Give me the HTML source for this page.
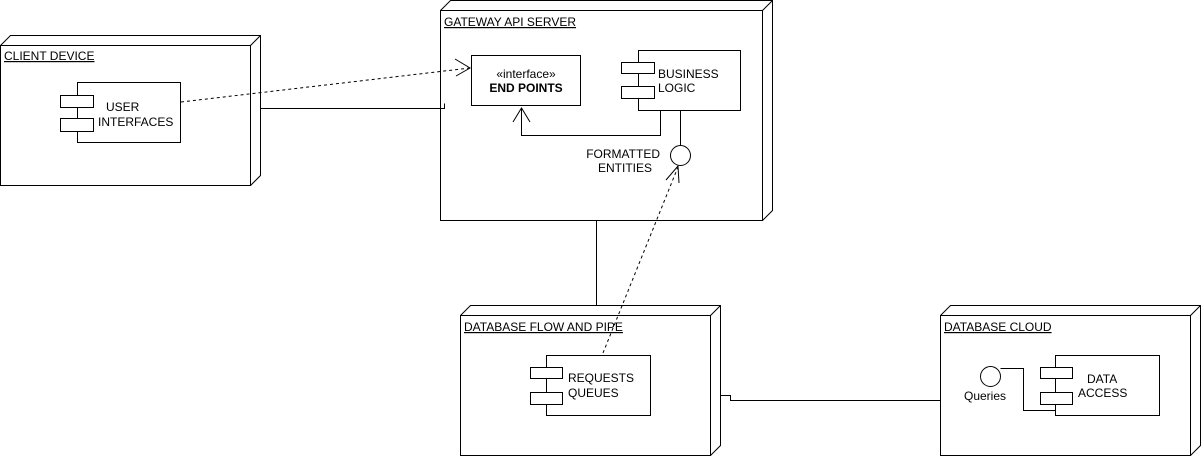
<!DOCTYPE html>
<html><head><style>body{margin:0;background:#fff}svg{display:block}text{font-family:"Liberation Sans",sans-serif;font-size:12px;fill:#000}</style></head>
<body>
<svg width="1201" height="456" viewBox="0 0 1201 456" xmlns="http://www.w3.org/2000/svg">
<g fill="none" stroke="#000" stroke-width="1">
<!-- client -->
<rect x="0.5" y="45.5" width="250" height="140" fill="#fff"/>
<path d="M0.5 45.5 L10.5 35.5 L260.5 35.5 L260.5 175.5 L250.5 185.5 M250.5 45.5 L260.5 35.5"/>
<!-- gateway -->
<rect x="440.5" y="10.5" width="322" height="210" fill="#fff"/>
<path d="M440.5 10.5 L450.5 0.5 L772.5 0.5 L772.5 210.5 L762.5 220.5 M762.5 10.5 L772.5 0.5"/>
<!-- db flow -->
<rect x="460.5" y="315.5" width="250" height="140" fill="#fff"/>
<path d="M460.5 315.5 L470.5 305.5 L720.5 305.5 L720.5 445.5 L710.5 455.5 M710.5 315.5 L720.5 305.5"/>
<!-- cloud -->
<rect x="940.5" y="315.5" width="250" height="140" fill="#fff"/>
<path d="M940.5 315.5 L950.5 305.5 L1200.5 305.5 L1200.5 445.5 L1190.5 455.5 M1190.5 315.5 L1200.5 305.5"/>
<!-- user interfaces -->
<rect x="77.5" y="82.5" width="103" height="60" fill="#fff"/>
<rect x="60.5" y="95.5" width="33" height="12" fill="#fff"/>
<rect x="60.5" y="118.5" width="33" height="13" fill="#fff"/>
<!-- endpoints -->
<rect x="471.5" y="55.5" width="109" height="50" fill="#fff"/>
<!-- business -->
<rect x="638.5" y="50.5" width="102" height="60" fill="#fff"/>
<rect x="621.5" y="62.5" width="33" height="11" fill="#fff"/>
<rect x="621.5" y="86.5" width="33" height="12" fill="#fff"/>
<!-- requests -->
<rect x="546.5" y="355.5" width="104" height="60" fill="#fff"/>
<rect x="530.5" y="367.5" width="32" height="11" fill="#fff"/>
<rect x="530.5" y="392.5" width="32" height="12" fill="#fff"/>
<!-- data access -->
<rect x="1055.5" y="355.5" width="104" height="60" fill="#fff"/>
<rect x="1040.5" y="367.5" width="32" height="11" fill="#fff"/>
<rect x="1040.5" y="392.5" width="32" height="12" fill="#fff"/>
<!-- connectors -->
<path d="M260.5 108.5 L444.5 108.5 L444.5 103.5"/>
<path d="M181 102 L470 68" stroke-dasharray="3 3"/>
<path d="M455 59 L470 68 L456 76"/>
<path d="M660.5 110.5 L660.5 135.5 L521.5 135.5 L521.5 108"/>
<path d="M513 122 L521.5 108 L530 122"/>
<path d="M680.5 110.5 L680.5 145"/>
<circle cx="680.5" cy="155.5" r="10" fill="#fff"/>
<path d="M603 353 L678 167" stroke-dasharray="3 3"/>
<path d="M666 180 L678 166 L679 183"/>
<path d="M596.5 220.5 L596.5 305.5"/>
<path d="M720.5 395.5 L730.5 395.5 L730.5 400.5 L940.5 400.5"/>
<circle cx="990.5" cy="376.5" r="10" fill="#fff"/>
<path d="M1000.5 368.5 L1023.5 368.5 L1023.5 410.5 L1055.5 410.5"/>
</g>
<text x="4" y="60" text-decoration="underline">CLIENT DEVICE</text>
<text x="444" y="26" text-decoration="underline">GATEWAY API SERVER</text>
<text x="464" y="331" text-decoration="underline">DATABASE FLOW AND PIPE</text>
<text x="944" y="331" text-decoration="underline">DATABASE CLOUD</text>
<text x="106" y="111">USER</text>
<text x="98" y="126">INTERFACES</text>
<text x="526" y="78" text-anchor="middle">«interface»</text>
<text x="526" y="92" text-anchor="middle" font-weight="bold">END POINTS</text>
<text x="658" y="78">BUSINESS</text>
<text x="658" y="92">LOGIC</text>
<text x="660" y="158" text-anchor="end">FORMATTED</text>
<text x="652" y="172" text-anchor="end">ENTITIES</text>
<text x="568" y="382">REQUESTS</text>
<text x="568" y="397">QUEUES</text>
<text x="1087" y="383">DATA</text>
<text x="1078" y="397">ACCESS</text>
<text x="985" y="400" text-anchor="middle">Queries</text>
</svg>
</body></html>
